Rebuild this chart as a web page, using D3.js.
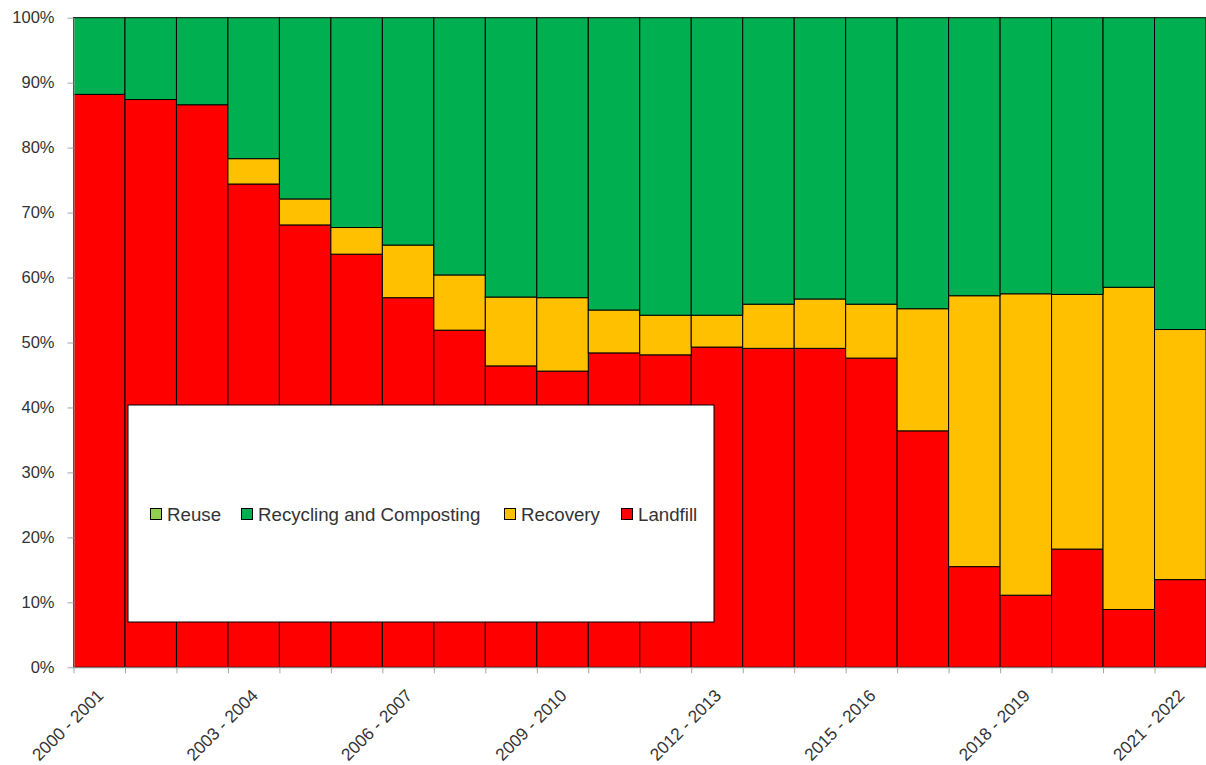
<!DOCTYPE html>
<html>
<head>
<meta charset="utf-8">
<script src="https://cdn.jsdelivr.net/npm/d3@7"></script>
<style>
  html, body { margin: 0; padding: 0; background: #fff; }
  svg { display: block; font-family: "Liberation Sans", Arial, sans-serif; }
</style>
</head>
<body>
<svg id="chart" width="1206" height="765"></svg>
<script>
const categories = ["2000 - 2001","2001 - 2002","2002 - 2003","2003 - 2004","2004 - 2005","2005 - 2006",
  "2006 - 2007","2007 - 2008","2008 - 2009","2009 - 2010","2010 - 2011","2011 - 2012","2012 - 2013",
  "2013 - 2014","2014 - 2015","2015 - 2016","2016 - 2017","2017 - 2018","2018 - 2019","2019 - 2020",
  "2020 - 2021","2021 - 2022"];
const landfill  = [88.2,87.4,86.6,74.4,68.1,63.6,56.9,51.9,46.4,45.6,48.4,48.1,49.3,49.1,49.1,47.6,36.4,15.5,11.1,18.2,8.9,13.5];
const recovery  = [0,0,0,3.9,4.0,4.1,8.1,8.5,10.6,11.3,6.6,6.1,4.9,6.8,7.6,8.3,18.8,41.7,46.4,39.2,49.6,38.5];
const recycling = [11.8,12.6,13.4,21.7,27.9,32.3,35.0,39.6,43.0,43.1,45.0,45.8,45.8,44.1,43.3,44.1,44.8,42.8,42.5,42.6,41.5,48.0];
const reuse     = [0,0,0,0,0,0,0,0,0,0,0,0,0,0,0,0,0,0,0,0,0,0];
const seriesNames = ["Landfill","Recovery","Recycling and Composting","Reuse"];
const legendOrder = ["Reuse","Recycling and Composting","Recovery","Landfill"];
const yTicks = [0,0.1,0.2,0.3,0.4,0.5,0.6,0.7,0.8,0.9,1.0];
const labelEvery = 3;

const colors = {"Landfill":"#FF0000","Recovery":"#FFC000","Recycling and Composting":"#00B050","Reuse":"#92D050"};
const seriesData = {"Landfill":landfill,"Recovery":recovery,"Recycling and Composting":recycling,"Reuse":reuse};

const rows = categories.map((c,i) => {
  const r = {category:c};
  seriesNames.forEach(s => r[s] = seriesData[s][i]);
  return r;
});

const svg = d3.select("#chart");
const plotLeft = 73.5, plotRight = 1206, plotTop = 17.7, plotBottom = 667.3;

const x = d3.scaleBand().domain(categories).range([plotLeft, plotRight]).padding(0);
const y = d3.scaleLinear().domain([0,1]).range([plotBottom, plotTop]);

const stack = d3.stack().keys(seriesNames).offset(d3.stackOffsetExpand);
const stacked = stack(rows);

const axisColor = "#a6a6a6";
const textColor = "#333333";

// bars
const g = svg.append("g");
stacked.forEach(layer => {
  g.selectAll(null)
    .data(layer.filter(d => d[1] - d[0] > 0))
    .enter().append("rect")
    .attr("x", d => x(d.data.category))
    .attr("width", x.bandwidth())
    .attr("y", d => y(d[1]))
    .attr("height", d => y(d[0]) - y(d[1]))
    .attr("fill", colors[layer.key])
    .attr("stroke", "#000")
    .attr("stroke-width", 1);
});

// y axis
const yAxis = svg.append("g").attr("transform", `translate(${plotLeft},0)`)
  .call(d3.axisLeft(y).tickValues(yTicks).tickFormat(d3.format(".0%")).tickSize(6).tickSizeOuter(0).tickPadding(13));
yAxis.select(".domain").attr("stroke", axisColor);
yAxis.selectAll(".tick line").attr("stroke", axisColor);
yAxis.selectAll(".tick text").attr("fill", textColor).attr("font-size", 16.5)
  .attr("font-family", "'Liberation Sans', Arial, sans-serif");

// x axis (ticks at category boundaries)
const xb = d3.scaleLinear().domain([0, categories.length]).range([plotLeft, plotRight]);
const xAxis = svg.append("g").attr("transform", `translate(0,${plotBottom})`)
  .call(d3.axisBottom(xb).tickValues(d3.range(categories.length + 1)).tickFormat("").tickSize(6).tickSizeOuter(0));
xAxis.select(".domain").attr("stroke", axisColor);
xAxis.selectAll(".tick line").attr("stroke", axisColor);

// x labels
svg.append("g").selectAll("text")
  .data(categories.filter((c,i) => i % labelEvery === 0))
  .enter().append("text")
  .attr("transform", d => `translate(${x(d) + x.bandwidth()/2 + 1},${plotBottom + 25}) rotate(-45)`)
  .attr("text-anchor", "end")
  .attr("dy", "0.35em")
  .attr("font-size", 17.3)
  .attr("fill", textColor)
  .text(d => d);

// legend
const lg = svg.append("g");
lg.append("rect").attr("x", 128).attr("y", 405).attr("width", 586).attr("height", 217)
  .attr("fill", "#fff").attr("stroke", "#000").attr("stroke-width", 1);
const legendPos = {"Reuse":150,"Recycling and Composting":241,"Recovery":504,"Landfill":621};
legendOrder.forEach(name => {
  const lx = legendPos[name];
  lg.append("rect").attr("x", lx + 0.5).attr("y", 508.5).attr("width", 11).attr("height", 11)
    .attr("fill", colors[name]).attr("stroke", "#000").attr("stroke-width", 1);
  lg.append("text").attr("x", lx + 17).attr("y", 514).attr("dy", "0.35em")
    .attr("font-size", 18.7).attr("fill", textColor).text(name);
});
</script>
</body>
</html>
